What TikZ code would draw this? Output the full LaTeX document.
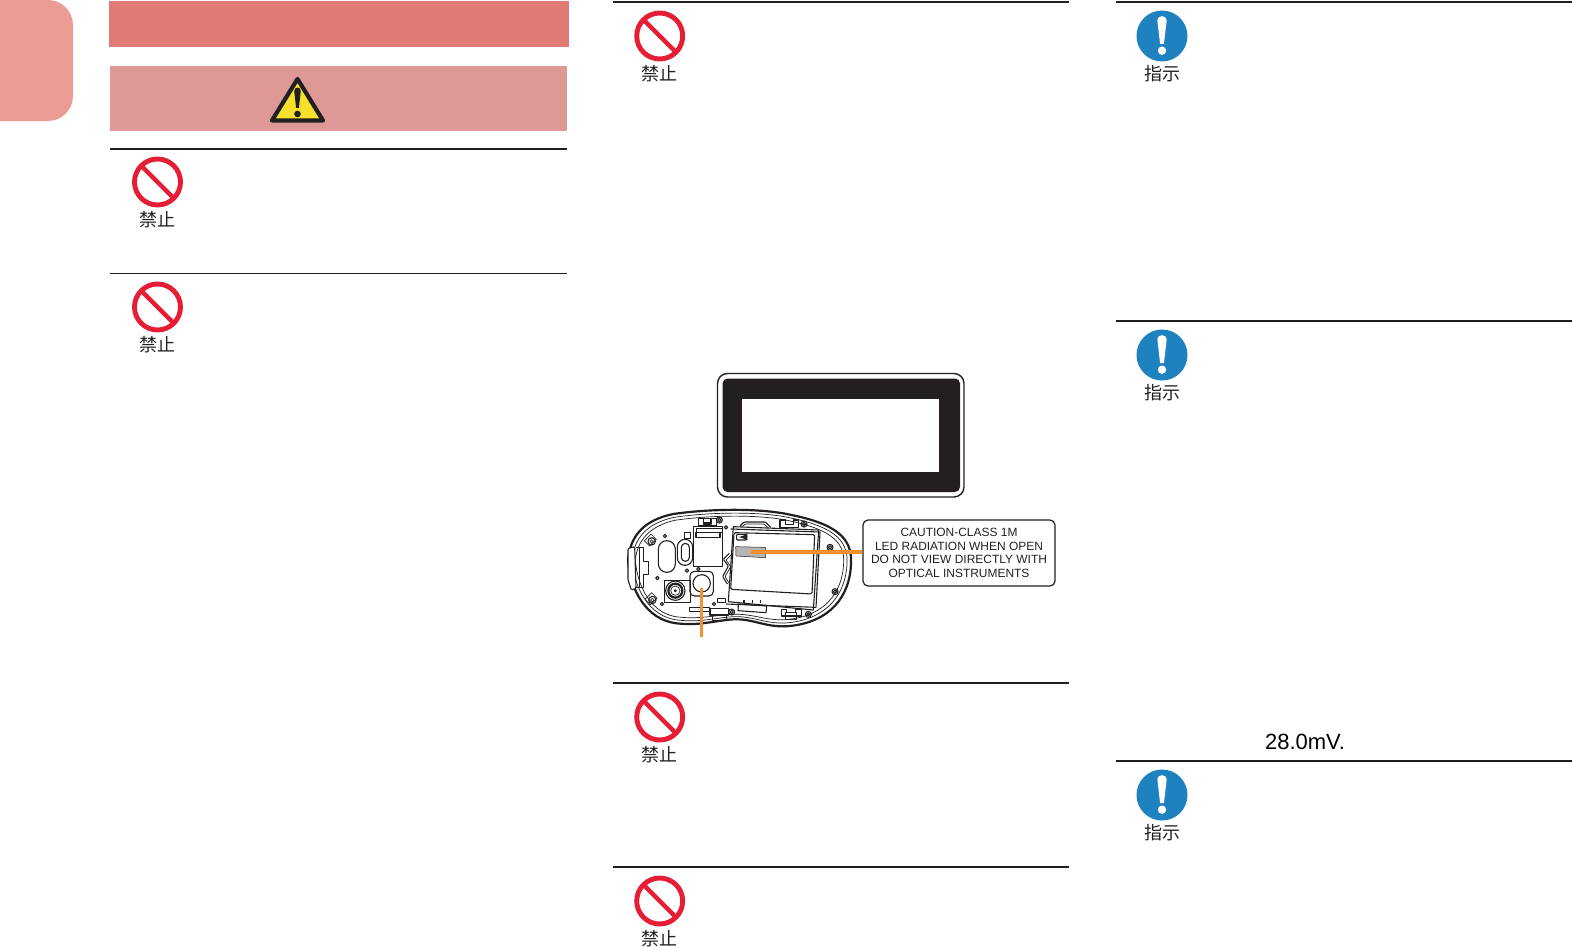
\documentclass[tikz,border=0pt]{standalone}
\usepackage{fontspec}
\setmainfont{Liberation Sans}
\newfontfamily\cjk{Noto Sans CJK JP}
\definecolor{tabpink}{HTML}{EB9C95}
\definecolor{bannerred}{HTML}{E07A75}
\definecolor{bannerpink}{HTML}{DE9997}
\definecolor{forbidred}{HTML}{E61E35}
\definecolor{infoblue}{HTML}{1F82C0}
\definecolor{warnyellow}{HTML}{F5E12C}
\definecolor{inkblack}{HTML}{231F20}
\definecolor{leadorange}{HTML}{F6902E}
\definecolor{plategray}{HTML}{B5B5B5}
\tikzset{
  x=0.5pt,y=-0.5pt,
  heavyrule/.style={draw=inkblack,line width=1pt},
  thinrule/.style={draw=inkblack,line width=0.55pt},
  iconlabel/.style={font=\cjk\fontsize{9}{9}\selectfont,text=inkblack,inner sep=0pt,anchor=center},
  leadline/.style={draw=leadorange,line width=2pt},
  devthick/.style={draw=inkblack,line width=1.1pt,line join=round},
  devline/.style={draw=inkblack,line width=0.35pt,line join=round},
  devmid/.style={draw=inkblack,line width=0.55pt,line join=round},
  forbid/.pic={
    \draw[forbidred,line width=2.45pt] (0,0) circle[radius=23];
    \draw[forbidred,line width=2.2pt] (-16,-16) -- (16,16);
    \node[iconlabel] (-lbl) at (0,38) {禁止};
  },
  instruct/.pic={
    \fill[infoblue] (0,0) circle[radius=25.5];
    \fill[white] (-4.6,-15) .. controls (-4.6,-21.5) and (4.6,-21.5) .. (4.6,-15) -- (1.9,8) -- (-1.9,8) -- cycle;
    \fill[white] (0,14.7) circle[radius=4.2];
    \node[iconlabel] (-lbl) at (0,38) {指示};
  }
}
\begin{document}
\begin{tikzpicture}
\useasboundingbox (0,0) rectangle (1572,947);
% section tab and banners
\fill[tabpink,rounded corners=12.5pt] (-60,0) rectangle (73,121);
\fill[bannerred] (109,1) rectangle (568.5,47);
\fill[bannerpink] (110,66) rectangle (566.5,131);
% warning triangle
\filldraw[fill=warnyellow,draw=inkblack,line width=2.1pt,line join=round] (297.5,79) -- (272,120.5) -- (323,120.5) -- cycle;
\fill[inkblack] (294.2,91) .. controls (294.2,86.5) and (300.8,86.5) .. (300.8,91) -- (298.9,108) -- (296.1,108) -- cycle;
\fill[inkblack] (297.5,114) circle[radius=3.3];
% rules
\draw[heavyrule] (110,149) -- (566.5,149);
\draw[thinrule] (110,273.5) -- (566.5,273.5);
\draw[heavyrule] (613,2) -- (1069,2);
\draw[heavyrule] (613,683) -- (1069,683);
\draw[heavyrule] (613,867) -- (1069,867);
\draw[heavyrule] (1115.5,2) -- (1572,2);
\draw[heavyrule] (1115.5,321) -- (1572,321);
\draw[heavyrule] (1115.5,761) -- (1572,761);
% icons
\pic (f1) at (157.5,182) {forbid};
\pic (f2) at (157.5,307) {forbid};
\pic (f3) at (659.7,36) {forbid};
\pic (f4) at (659.7,717) {forbid};
\pic (f5) at (659.7,901) {forbid};
\pic (i1) at (1162,36) {instruct};
\pic (i2) at (1162,355) {instruct};
\pic (i3) at (1162,795) {instruct};
% laser label plate
\draw[draw=inkblack,line width=0.7pt,rounded corners=5pt] (717.5,373.5) rectangle (964,497);
\fill[inkblack,rounded corners=2.5pt] (722.5,378.5) rectangle (960,492);
\fill[white] (742,399) rectangle (939,472);
% caution box
\node[draw=inkblack,line width=0.6pt,rounded corners=2.5pt,minimum width=96pt,minimum height=33pt,inner sep=0pt,align=center,
  font=\fontsize{5.98}{6.85}\selectfont,text=inkblack] (caution) at (959,553)
  {CAUTION-CLASS 1M\\LED RADIATION WHEN OPEN\\DO NOT VIEW DIRECTLY WITH\\OPTICAL INSTRUMENTS};
% reading node
\node[font=\fontsize{11}{11}\selectfont,text=black,inner sep=0pt] (mv) at (1305,742) {28.0mV.};
% device (zoom coordinates: 1 unit = 1/3 px)
\begin{scope}[shift={(600,500)},x=0.16667pt,y=-0.16667pt]
  % outer body
  \draw[devthick] (84,180) .. controls (90,110) and (130,60) .. (220,42)
     .. controls (330,26) and (480,24) .. (570,44)
     .. controls (700,70) and (758,110) .. (753,190)
     .. controls (750,290) and (690,365) .. (570,378)
     .. controls (500,385) and (460,355) .. (400,358)
     .. controls (340,362) and (300,378) .. (230,370)
     .. controls (140,360) and (90,270) .. (84,180) -- cycle;
  \draw[devline] (96,180) .. controls (102,115) and (140,70) .. (222,52)
     .. controls (330,36) and (480,34) .. (568,53)
     .. controls (690,78) and (746,115) .. (741,190)
     .. controls (737,285) and (680,355) .. (568,368)
     .. controls (500,375) and (460,347) .. (400,350)
     .. controls (340,354) and (300,368) .. (232,360)
     .. controls (148,350) and (102,265) .. (96,180) -- cycle;
  \draw[devline] (106,180) .. controls (112,120) and (150,78) .. (224,61)
     .. controls (330,45) and (480,43) .. (566,62)
     .. controls (680,86) and (736,120) .. (731,190)
     .. controls (727,280) and (672,347) .. (566,358)
     .. controls (500,365) and (460,340) .. (400,343)
     .. controls (340,346) and (300,358) .. (234,351)
     .. controls (155,342) and (112,262) .. (106,180) -- cycle;
  % side clip
  \draw[devmid,fill=white,rounded corners=0.6pt] (84,145) -- (104,140) -- (108,265) -- (94,270) -- (84,240) -- cycle;
  \draw[devline] (108,143) -- (130,143) -- (130,185) -- (146,185) -- (146,222) -- (130,222) -- (130,262) -- (108,262);
  \draw[devline] (118,143) -- (118,262);
  % long oval and button
  \draw[devmid,rounded corners=4.2pt] (175,122) rectangle (226,217);
  \draw[devmid,rounded corners=3.8pt] (232,118) rectangle (278,196);
  \draw[devmid,rounded corners=2pt] (244,130) rectangle (268,184);
  \draw[devline] (253,97) rectangle (271,114);
  % screws
  \foreach \sx/\sy in {155/124,157/300}{
    \draw[devmid] (\sx,\sy) circle[radius=11];
    \draw[devline] (\sx,\sy) circle[radius=5];
    \draw[devline] (\sx-22,\sy-2) -- (\sx-2,\sy-22) -- (\sx+14,\sy-6) -- (\sx-6,\sy+14) -- cycle;
  }
  \foreach \sx/\sy in {195/108,172/234,261/212,186/312,295/207,342/312,378/82,395/336,690/142,705/275,612/72,625/343,358/60}{
    \draw[devmid] (\sx,\sy) circle[radius=5];
  }
  \foreach \sx/\sy in {705/275,395/336,625/343,612/72,358/60,690/142}{
    \draw[devmid] (\sx,\sy) circle[radius=9];
  }
  % camera square
  \draw[devmid] (193,241) rectangle (272,307);
  \draw[devmid] (226,272) circle[radius=29];
  \draw[devthick] (226,272) circle[radius=21];
  \draw[devline] (226,272) circle[radius=14];
  \draw[devmid] (226,272) circle[radius=3];
  % lens
  \draw[devmid,rounded corners=2.2pt] (270,214) rectangle (340,288);
  \draw[devmid] (305,250) circle[radius=26];
  % top connector block
  \draw[devline] (281,198) -- (281,78) -- (366,78) -- (366,198) -- cycle;
  \draw[devmid] (288,97) rectangle (360,112);
  \draw[devline] (288,84) rectangle (366,97);
  \draw[devmid] (295,56) -- (295,78) -- (350,78) -- (350,56) -- (333,56) -- (333,72) -- (310,72) -- (310,56) -- cycle;
  \draw[devline] (310,56) rectangle (333,68);
  % top/bottom clips
  \draw[devmid] (540,60) -- (540,82) -- (596,82) -- (596,60) -- (580,60) -- (580,74) -- (556,74) -- (556,60) -- cycle;
  \draw[devmid] (545,328) -- (545,348) -- (605,348) -- (605,328) -- (586,328) -- (586,338) -- (560,338) -- (560,328) -- cycle;
  \draw[devmid] (330,325) -- (330,345) -- (385,345) -- (385,325) -- cycle;
  \draw[devline] (555,338) rectangle (588,358);
  \draw[devline] (338,345) rectangle (378,360);
  \draw[devline] (267,321) rectangle (327,335);
  \draw[devline] (353,295) rectangle (377,307);
  % battery compartment
  \draw[devmid] (400,80) -- (656,90) -- (640,330) -- (385,305) -- cycle;
  \draw[devmid] (392,87) -- (660,96) -- (648,322) -- (378,312);
  \draw[devmid,rounded corners=0.7pt] (402,98) -- (644,104) -- (636,282) -- (392,268) -- cycle;
  \draw[devmid,rounded corners=0.5pt] (420,78) -- (432,66) -- (496,66) -- (512,82);
  \draw[devline,rounded corners=0.5pt] (426,80) -- (436,72) -- (492,72) -- (505,84);
  \draw[devmid,rounded corners=0.4pt] (388,160) -- (370,178) -- (385,198) -- (368,230) -- (382,252);
  \draw[devline,rounded corners=0.4pt] (393,165) -- (378,180) -- (392,200) -- (375,230) -- (388,250);
  \draw[devmid,rounded corners=0.4pt] (410,103) rectangle (440,120);
  \draw[inkblack,line width=0.5pt,-latex] (433,111) -- (416,111);
  \draw[devmid] (415,312) -- (500,318) -- (498,338) -- (414,332) -- cycle;
  \foreach \bx in {432,458,482}{\draw[inkblack,line width=0.6pt] (\bx,300) -- (\bx,310);}
  % gray plate
  \draw[draw=inkblack,line width=0.25pt,fill=plategray,rounded corners=0.2pt] (407,140) -- (497,142) -- (497,173) -- (408,168) -- cycle;
\end{scope}
% leads
\coordinate (leadA) at (751,552);
\coordinate (leadB) at (701.7,588);
\coordinate (leadBend) at (701.7,637);
\draw[leadline] (leadA) -- (leadA -| caution.west);
\draw[leadline,line width=1.6pt] (leadB) -- (leadBend);
\end{tikzpicture}
\end{document}
